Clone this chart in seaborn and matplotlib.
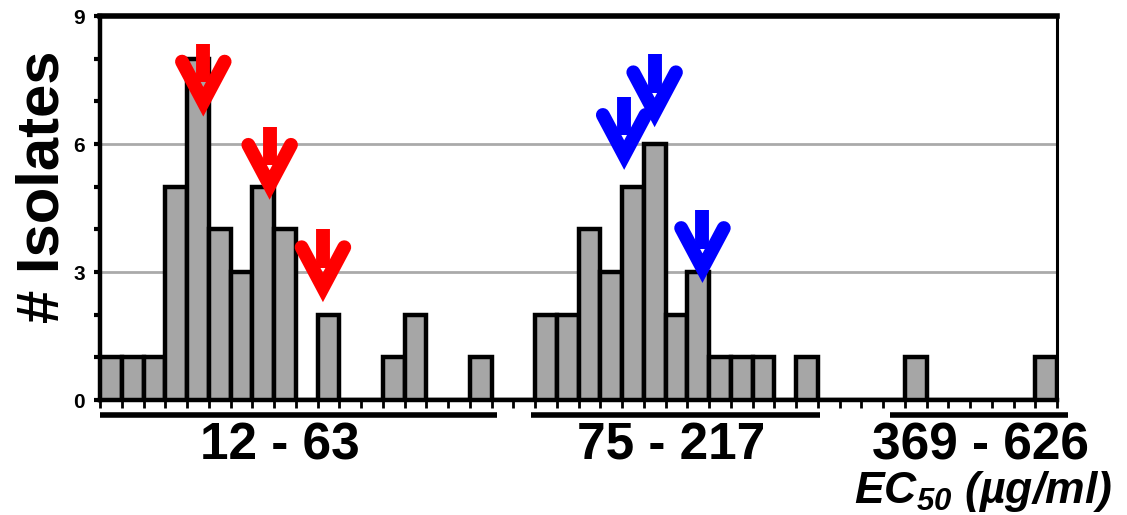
import matplotlib
matplotlib.use("Agg")
import matplotlib.pyplot as plt
import matplotlib.transforms as mtransforms
import seaborn as sns
import numpy as np
import pandas as pd

# ---- data ----
bins = list(range(44))
counts = [1, 1, 1, 5, 8, 4, 3, 5, 4, 0, 2, 0, 0, 1, 2, 0, 0, 1, 0, 0,
          2, 2, 4, 3, 5, 6, 2, 3, 1, 1, 1, 0, 1, 0, 0, 0, 0, 1, 0, 0, 0, 0, 0, 1]
y_ticks = [0, 3, 6, 9]
group_labels = ["12 - 63", "75 - 217", "369 - 626"]
group_start = [-0.5, 19.3, 35.8]
group_end = [17.75, 32.6, 44.0]
group_centers = [7.75, 25.75, 40.0]
red_arrow_x = [4.25, 7.3, 9.75]
red_arrow_tip = [6.85, 4.9, 2.5]
blue_arrow_x = [23.6, 25.0, 27.2]
blue_arrow_tip = [5.6, 6.6, 2.95]

sns.set_theme(style="white")
plt.rcParams['font.family'] = ['Liberation Sans', 'DejaVu Sans']
plt.rcParams['text.color'] = 'black'
plt.rcParams['axes.labelcolor'] = 'black'
plt.rcParams['xtick.color'] = 'black'
plt.rcParams['ytick.color'] = 'black'
plt.rcParams['mathtext.fontset'] = 'custom'
plt.rcParams['mathtext.bfit'] = 'Liberation Sans:bold:italic'
plt.rcParams['mathtext.it'] = 'Liberation Sans:italic'
plt.rcParams['mathtext.bf'] = 'Liberation Sans:bold'
plt.rcParams['mathtext.rm'] = 'Liberation Sans'

fig = plt.figure(figsize=(11.27, 5.15), dpi=100)
ax = fig.add_axes([100 / 1127, 115 / 515, 957 / 1127, 384 / 515])

df = pd.DataFrame({"bin": bins, "count": counts})
sns.barplot(data=df, x="bin", y="count", color="#a6a6a6", width=1.0,
            edgecolor="black", linewidth=3.2, saturation=1, ax=ax, zorder=3)

ax.set_xlim(-0.5, 43.5)
ax.set_ylim(0, 9)
ax.set_xlabel("")
ax.set_ylabel("# Isolates", fontsize=43, fontweight="bold", color="black")
ax.yaxis.set_label_coords(-0.031, 0.555)

# grid
for g in [3, 6]:
    ax.axhline(g, color="#aaaaaa", lw=2, zorder=1)

# spines
for s in ["left", "bottom", "top"]:
    ax.spines[s].set_color("black")
    ax.spines[s].set_linewidth(3.2)
ax.spines["right"].set_color("black")
ax.spines["right"].set_linewidth(2.2)
ax.spines["top"].set_linewidth(4)

# y ticks
ax.set_yticks(range(0, 10))
ax.set_yticklabels([str(v) if v in y_ticks else "" for v in range(10)],
                   fontsize=15, fontweight="bold", color="black",
                   family=['Liberation Sans Narrow', 'Liberation Sans'])
ax.tick_params(axis="y", which="major", direction="out", length=4, width=3,
               color="black", pad=7, left=True)
# x ticks at bin edges
ax.set_xticks([b - 0.5 for b in bins] + [43.5])
ax.set_xticklabels([])
ax.tick_params(axis="x", which="major", direction="out", length=6, width=2,
               color="black", bottom=True)

# arrows
def draw_arrow(x, tip, color):
    dx, dy = 0.98, 1.08
    ax.plot([x - dx, x, x + dx], [tip + dy, tip + 0.14, tip + dy], color=color,
            lw=10, solid_joinstyle="miter", solid_capstyle="round", zorder=6,
            clip_on=False)
    ax.plot([x, x], [tip + 0.6, tip + 1.5], color=color, lw=10,
            solid_capstyle="butt", zorder=6, clip_on=False)

for x, t in zip(red_arrow_x, red_arrow_tip):
    draw_arrow(x, t, "#ff0000")
for x, t in zip(blue_arrow_x, blue_arrow_tip):
    draw_arrow(x, t, "#0000ff")

# group lines and labels
trans = mtransforms.blended_transform_factory(ax.transData, ax.transAxes)
for s, e, c, lab in zip(group_start, group_end, group_centers, group_labels):
    ax.plot([s, e], [-0.04, -0.04], color="black", lw=4, transform=trans,
            clip_on=False, solid_capstyle="butt")
    ax.text(c, -0.12, lab, transform=trans, ha="center", va="center",
            fontsize=37, fontweight="bold", color="black")

fig.text(1112 / 1127, 24 / 515, r"$\mathbfit{EC}_{\mathbfit{50}}$ (µg/ml)",
         ha="right", va="center", fontsize=32, fontweight="bold",
         style="italic", color="black")

fig.savefig("out.png", dpi=100)
